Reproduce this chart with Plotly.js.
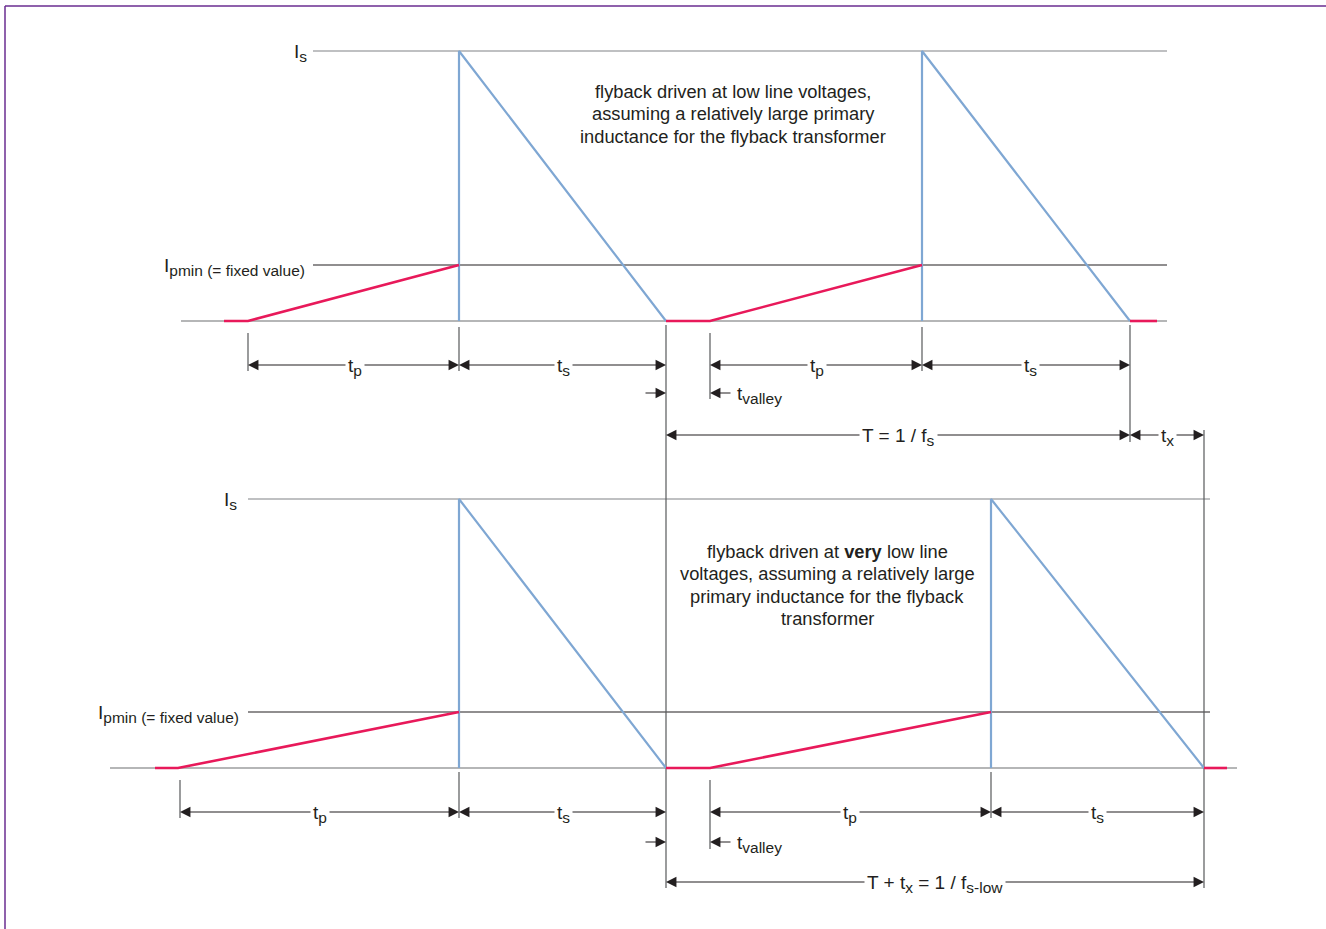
<!DOCTYPE html>
<html>
<head>
<meta charset="utf-8">
<script src="https://cdn.plot.ly/plotly-3.0.1.min.js"></script>
<style>html,body{margin:0;padding:0;background:#fff;}#chart{width:1326px;height:929px;}</style>
</head>
<body>
<div id="chart"></div>
<script>
// ---- Top panel (low line voltage) ----
const topLevelY = [321, 265, 51];            // baseline, Ipmin, Is
const topRefStart = [181, 313, 313];
const topRefEnd = [1167, 1167, 1167];
const topRedX = [224, 248, 459, null, 666, 710, 922, null, 1130, 1157];
const topRedY = [321, 321, 265, null, 321, 321, 265, null, 321, 321];
const topBlueX = [459, 459, 666, null, 922, 922, 1130];
const topBlueY = [321, 51, 321, null, 321, 51, 321];

// ---- Bottom panel (very low line voltage) ----
const botLevelY = [768, 712, 499];
const botRefStart = [110, 248, 248];
const botRefEnd = [1237, 1210, 1210];
const botRedX = [155, 178, 459, null, 666, 710, 991, null, 1204, 1227];
const botRedY = [768, 768, 712, null, 768, 768, 712, null, 768, 768];
const botBlueX = [459, 459, 666, null, 991, 991, 1204];
const botBlueY = [768, 499, 768, null, 768, 499, 768];

// ---- Level labels ----
const levelMain = ['I', 'I', 'I', 'I'];
const levelSub = ['s', 'pmin (= fixed value)', 's', 'pmin (= fixed value)'];
const levelLabelX = [309, 307, 239, 241];
const levelLabelY = [51, 265, 499, 712];

// ---- Dimension arrows: start, end, row, label, label x ----
const dimStart = [248, 459, 710, 922, 666, 1130, 180, 459, 710, 991, 666];
const dimEnd   = [459, 666, 922, 1130, 1130, 1204, 459, 666, 991, 1204, 1204];
const dimRow   = [365, 365, 365, 365, 435, 435, 812, 812, 812, 812, 882];
const dimMain  = [['t','p'], ['t','s'], ['t','p'], ['t','s'], ['T = 1 / f','s'], ['t','x'],
                  ['t','p'], ['t','s'], ['t','p'], ['t','s']];
const dimLabelX = [355, 563, 817, 1030, 898, 1167, 320, 563, 850, 1097, 935];

// ---- Valley markers: row, left tip, right tip ----
const valleyRow = [393, 842];
const valleyLeft = [666, 666];
const valleyRight = [710, 710];

// ---- Extension lines: x, y from, y to ----
const extX    = [248, 459, 666, 710, 922, 1130, 1204, 180, 459, 710, 991];
const extFrom = [333, 327, 325, 333, 327, 325, 430, 780, 772, 780, 772];
const extTo   = [371, 371, 888, 399, 371, 442, 888, 818, 818, 849, 818];

// ---- Descriptions (one entry per line) ----
const descTopLines = ['flyback driven at low line voltages,', 'assuming a relatively large primary', 'inductance for the flyback transformer'];
const descBotLines = ['flyback driven at <b>very</b> low line', 'voltages, assuming a relatively large', 'primary inductance for the flyback', 'transformer'];
const descX = [733, 827];
const descFirstY = [91, 551];
const descLineGap = 22.6;

const RED = '#e8195a', BLUE = '#7fa7d3', INK = '#231f20';
const FONT = 'Liberation Sans, Arial, Helvetica, sans-serif';
const SUB = (s) => '<sub><span style="font-size:15.5px">' + s + '</span></sub>';

const traces = [];
function seg(x, y, color, width) {
  traces.push({x: x, y: y, mode: 'lines', type: 'scatter', hoverinfo: 'skip',
    line: {color: color, width: width}, connectgaps: false});
}
const refColors = ['#6d6e71', '#231f20', '#808285'];
[[topLevelY, topRefStart, topRefEnd], [botLevelY, botRefStart, botRefEnd]].forEach(p => {
  for (let i = 0; i < 3; i++) seg([p[1][i], p[2][i]], [p[0][i], p[0][i]], refColors[i], 1.2);
});
for (let i = 0; i < extX.length; i++) seg([extX[i], extX[i]], [extFrom[i], extTo[i]], '#58595b', 1.2);
seg(topBlueX, topBlueY, BLUE, 2.2);
seg(botBlueX, botBlueY, BLUE, 2.2);
seg(topRedX, topRedY, RED, 2.6);
seg(botRedX, botRedY, RED, 2.6);

const annotations = [];
function arrow(tipX, tailX, y) {
  annotations.push({x: tipX, y: y, ax: tailX, ay: y, xref: 'x', yref: 'y', axref: 'x', ayref: 'y',
    text: '', showarrow: true, arrowhead: 2, arrowsize: 1.9, arrowwidth: 1.1, arrowcolor: '#231f20', standoff: 0});
}
for (let i = 0; i < dimStart.length; i++) {
  arrow(dimStart[i], dimLabelX[i], dimRow[i]);
  arrow(dimEnd[i], dimLabelX[i], dimRow[i]);
}
for (let i = 0; i < valleyRow.length; i++) {
  arrow(valleyLeft[i], valleyLeft[i] - 22, valleyRow[i]);
  arrow(valleyRight[i], valleyRight[i] + 22, valleyRow[i]);
  annotations.push({x: valleyRight[i] + 25, y: valleyRow[i] + 2, xref: 'x', yref: 'y', xanchor: 'left', yanchor: 'middle',
    text: 't' + SUB('valley'), showarrow: false, font: {family: FONT, size: 19, color: INK}});
}
for (let i = 0; i < dimStart.length; i++) {
  let txt;
  if (i < dimMain.length) txt = dimMain[i][0] + SUB(dimMain[i][1]);
  else txt = 'T + t' + SUB('x') + ' = 1 / f' + SUB('s-low');
  annotations.push({x: dimLabelX[i], y: dimRow[i] + 2, xref: 'x', yref: 'y', xanchor: 'center', yanchor: 'middle',
    text: txt, showarrow: false, bgcolor: '#ffffff', borderpad: 2,
    font: {family: FONT, size: 19, color: INK}});
}
for (let i = 0; i < levelMain.length; i++) {
  annotations.push({x: levelLabelX[i], y: levelLabelY[i] + 2, xref: 'x', yref: 'y', xanchor: 'right', yanchor: 'middle',
    text: levelMain[i] + SUB(levelSub[i]), showarrow: false, font: {family: FONT, size: 19, color: INK}});
}
[descTopLines, descBotLines].forEach((lines, k) => {
  lines.forEach((ln, j) => {
    annotations.push({x: descX[k], y: descFirstY[k] + j * descLineGap, xref: 'x', yref: 'y', xanchor: 'center', yanchor: 'middle',
      text: ln, showarrow: false, font: {family: FONT, size: 18.3, color: INK}});
  });
});

const layout = {
  width: 1326, height: 929, autosize: false,
  margin: {l: 0, r: 0, t: 0, b: 0, pad: 0},
  paper_bgcolor: '#ffffff', plot_bgcolor: '#ffffff', showlegend: false,
  xaxis: {range: [0, 1326], visible: false, fixedrange: true},
  yaxis: {range: [929, 0], visible: false, fixedrange: true},
  shapes: [
    {type: 'line', xref: 'x', yref: 'y', x0: 5, x1: 1326, y0: 6, y1: 6, line: {color: '#6a2c91', width: 1.5}},
    {type: 'line', xref: 'x', yref: 'y', x0: 5, x1: 5, y0: 6, y1: 929, line: {color: '#6a2c91', width: 1.5}}
  ],
  annotations: annotations
};
Plotly.newPlot('chart', traces, layout, {displayModeBar: false, staticPlot: true});
</script>
</body>
</html>
